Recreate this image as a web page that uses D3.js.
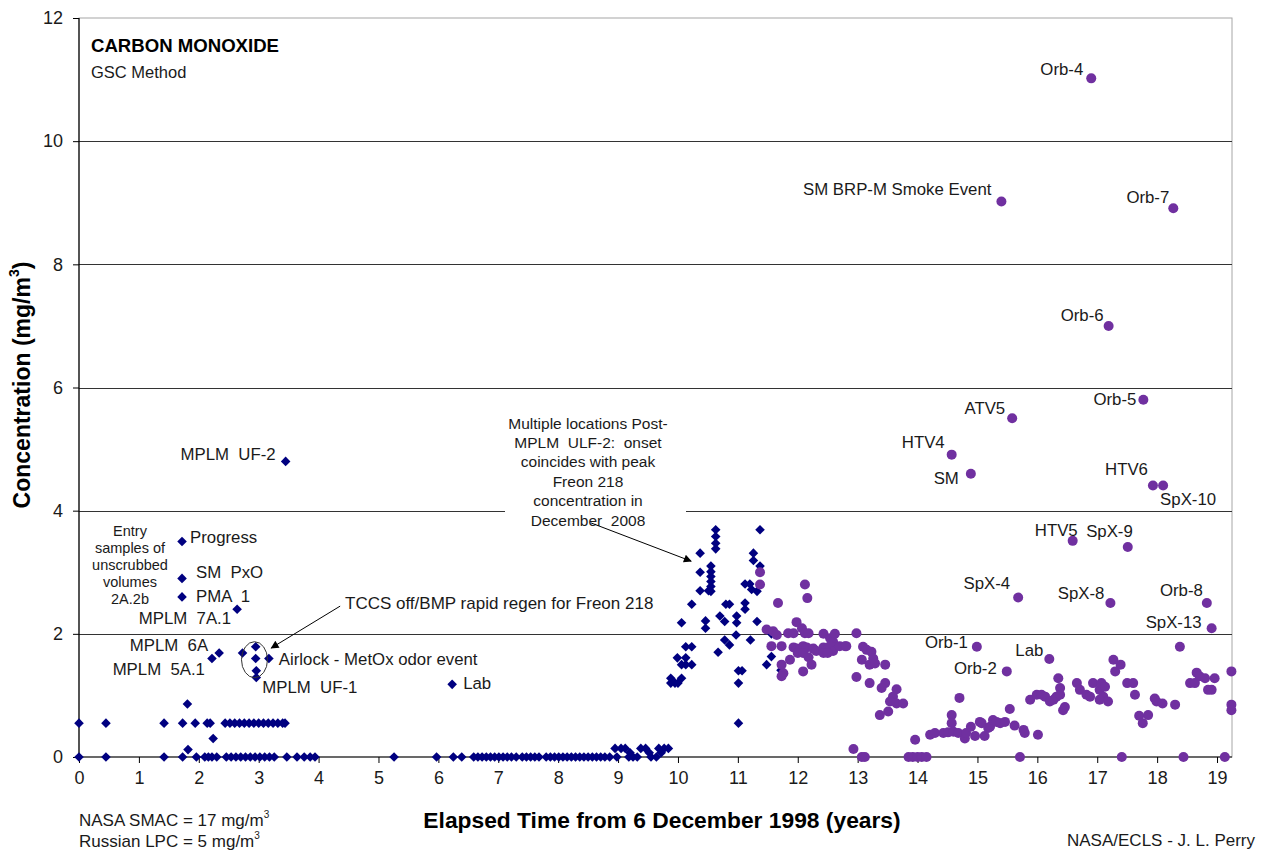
<!DOCTYPE html>
<html>
<head>
<meta charset="utf-8">
<script src="https://cdn.jsdelivr.net/npm/d3@7"></script>
<style>
  body { margin: 0; background: #fff; }
  svg { display: block; }
  text { font-family: "Liberation Sans", Arial, Helvetica, sans-serif; white-space: pre; }
</style>
</head>
<body>
<svg id="chart" width="1264" height="852"></svg>
<script>
// Carbon monoxide grab-sample results (GSC method), mg/m3,
// plotted against years elapsed since 6 December 1998.

// Axis ticks
const xTickValues = [0, 1, 2, 3, 4, 5, 6, 7, 8, 9, 10, 11, 12, 13, 14, 15, 16, 17, 18, 19];
const yTickValues = [0, 2, 4, 6, 8, 10, 12];

// Early samples at or near the reporting limit, 1998-2002: [years, mg/m3]
const diamondBaselineEarly = [
  [0.00, 0], [0.45, 0], [1.42, 0], [1.73, 0], [1.96, 0], [2.10, 0], [2.16, 0], [2.22, 0], [2.30, 0],
  [2.46, 0], [2.54, 0], [2.62, 0], [2.70, 0], [2.78, 0], [2.86, 0], [2.94, 0], [3.02, 0], [3.10, 0],
  [3.18, 0], [3.26, 0], [3.47, 0], [3.64, 0], [3.76, 0], [3.86, 0], [3.94, 0],
  [0.00, 0.55], [0.45, 0.55], [1.42, 0.55], [1.73, 0.55], [1.94, 0.55], [2.14, 0.55], [2.19, 0.55],
  [2.44, 0.55], [2.52, 0.55], [2.60, 0.55], [2.68, 0.55], [2.76, 0.55], [2.84, 0.55], [2.92, 0.55],
  [3.00, 0.55], [3.08, 0.55], [3.16, 0.55], [3.24, 0.55], [3.32, 0.55], [3.40, 0.55], [3.44, 0.55],
  [1.81, 0.86], [2.24, 0.30], [1.82, 0.12]
];

// Module entry samples and events, 2000-2005
const diamondEvents = [
  [1.72, 3.50], [1.72, 2.90], [1.72, 2.60], [2.64, 2.40], [2.22, 1.60], [2.34, 1.69], [2.73, 1.69],
  [2.95, 1.79], [2.95, 1.60], [3.17, 1.60], [2.96, 1.40], [2.96, 1.29], [3.45, 4.80], [6.23, 1.18]
];

// Routine samples 2004-2008
const diamondBaselineMid = [
  [5.26, 0], [5.97, 0], [6.25, 0], [6.39, 0], [6.59, 0], [6.66, 0], [6.73, 0], [6.80, 0], [6.87, 0],
  [6.94, 0], [7.01, 0], [7.08, 0], [7.15, 0], [7.22, 0], [7.30, 0], [7.40, 0], [7.47, 0], [7.54, 0],
  [7.61, 0], [7.68, 0], [7.80, 0], [7.87, 0], [7.94, 0], [8.01, 0], [8.08, 0], [8.15, 0], [8.22, 0],
  [8.29, 0], [8.36, 0], [8.43, 0], [8.50, 0], [8.57, 0], [8.64, 0], [8.71, 0], [8.78, 0], [8.86, 0],
  [8.95, 0.14], [9.05, 0.14], [9.12, 0.14], [9.38, 0.14], [9.46, 0.14], [9.68, 0.14], [9.77, 0.14], [9.84, 0.14],
  [9.20, 0.07], [9.52, 0.07], [9.72, 0.07],
  [8.98, 0], [9.18, 0], [9.25, 0], [9.32, 0], [9.55, 0], [9.64, 0]
];

// Post-ULF-2 rise, 2008-2010
const diamondRise = [
  [10.63, 3.69], [10.63, 3.58], [10.63, 3.47], [10.63, 3.38], [11.37, 3.69], [10.37, 3.31],
  [10.55, 3.10], [10.55, 3.01], [10.55, 2.93], [10.55, 2.85], [10.55, 2.77], [10.55, 2.69],
  [10.37, 3.00], [10.37, 2.70], [10.51, 2.70], [11.26, 3.31], [11.26, 3.19], [11.37, 3.10],
  [11.12, 2.81], [11.20, 2.81], [11.23, 2.72], [11.32, 2.69], [10.23, 2.48], [10.06, 2.18],
  [10.46, 2.21], [10.46, 2.09], [10.80, 2.48], [10.86, 2.48], [10.70, 2.29], [10.78, 2.20],
  [10.98, 2.29], [10.98, 2.18], [11.12, 2.50], [11.12, 2.40], [11.32, 2.20], [10.97, 1.98],
  [10.78, 1.90], [10.86, 1.82], [10.67, 1.70], [11.21, 1.90], [10.13, 1.79], [10.23, 1.79],
  [9.99, 1.61], [10.13, 1.61], [10.06, 1.50], [10.13, 1.50], [10.23, 1.50], [9.88, 1.28],
  [9.95, 1.20], [10.06, 1.28], [9.88, 1.20], [10.00, 1.20], [11.01, 1.40], [11.07, 1.40],
  [11.01, 1.20], [11.01, 0.55], [11.56, 1.63], [11.48, 1.50], [11.72, 1.41], [11.56, 2.00]
];

// Later samples, 2010-2018
const circleSamples = [
  [11.37, 3.00], [11.37, 2.80], [12.12, 2.80], [12.16, 2.58], [11.67, 2.50], [11.98, 2.19],
  [11.48, 2.07], [11.59, 2.04], [11.65, 1.98], [11.84, 2.01], [11.93, 2.01], [12.07, 2.09],
  [12.12, 2.01], [12.18, 2.01], [12.43, 2.00], [12.54, 1.93], [12.59, 1.87], [12.62, 2.00], [12.98, 2.01],
  [11.56, 1.80], [11.73, 1.80], [11.93, 1.78], [11.98, 1.76], [12.04, 1.74], [12.09, 1.80],
  [12.15, 1.78], [12.26, 1.76], [12.31, 1.72], [12.43, 1.78], [12.48, 1.74], [12.54, 1.80],
  [12.59, 1.72], [12.70, 1.80], [12.79, 1.80], [12.81, 1.80],
  [12.00, 1.69], [12.09, 1.69], [12.18, 1.62], [12.43, 1.69], [12.50, 1.69], [12.23, 1.50],
  [11.87, 1.58], [11.73, 1.50], [11.76, 1.36], [11.73, 1.31], [12.09, 1.39],
  [13.09, 1.79], [13.15, 1.74], [13.07, 1.58], [13.23, 1.71], [13.26, 1.60], [13.20, 1.50],
  [13.29, 1.52], [13.46, 1.50], [12.98, 1.30], [13.20, 1.20], [13.46, 1.20], [13.40, 1.12],
  [13.65, 1.10], [13.59, 0.98], [13.54, 0.90], [13.65, 0.87], [13.76, 0.87], [13.51, 0.74],
  [13.37, 0.68], [12.93, 0.13], [13.07, 0], [13.12, 0],
  [13.85, 0], [13.92, 0], [14.00, 0], [14.07, 0], [14.15, 0], [13.96, 0.28],
  [14.21, 0.36], [14.29, 0.39], [14.43, 0.39], [14.51, 0.40], [14.57, 0.68], [14.57, 0.55],
  [14.60, 0.41], [14.70, 0.96], [14.68, 0.39], [14.79, 0.30], [14.81, 0.39], [14.89, 0.49],
  [14.96, 0.34], [15.04, 0.57], [15.07, 0.55], [15.12, 0.34], [15.18, 0.47], [15.21, 0.49],
  [15.26, 0.60], [15.32, 0.57], [15.38, 0.55], [15.46, 0.57], [15.54, 0.78], [15.62, 0.51],
  [15.71, 0], [15.77, 0.44], [15.79, 0.39], [16.01, 0.36],
  [15.88, 0.93], [15.99, 1.01], [16.07, 1.01], [16.13, 0.98], [16.21, 0.90], [16.27, 0.93],
  [16.32, 0.98], [16.35, 1.28], [16.38, 1.12], [16.38, 1.01], [16.43, 0.76], [16.46, 0.81],
  [16.66, 1.20], [16.71, 1.09], [16.82, 1.01], [16.88, 0.98], [16.93, 1.20], [17.04, 1.09],
  [17.07, 1.20], [17.10, 0.98], [17.13, 1.14], [17.04, 0.93], [17.18, 0.90],
  [17.27, 1.58], [17.30, 1.39], [17.39, 1.50], [17.50, 1.20], [17.60, 1.20], [17.63, 1.01],
  [17.70, 0.67], [17.76, 0.55], [17.85, 0.68], [17.41, 0],
  [17.96, 0.95], [17.99, 0.90], [18.09, 0.87], [18.30, 0.85], [18.44, 0], [18.38, 1.79],
  [18.55, 1.20], [18.63, 1.20], [18.66, 1.37], [18.71, 1.31], [18.80, 1.28], [18.85, 1.09],
  [18.91, 1.09], [18.96, 1.28], [19.13, 0], [19.24, 1.39], [19.24, 0.85], [19.24, 0.76]
];

// Vehicle arrivals and named events, 2012-2018
const circleEvents = [
  [16.90, 11.02], [15.40, 9.02], [18.27, 8.91], [17.19, 7.00], [17.77, 5.80], [15.58, 5.50],
  [14.57, 4.91], [14.89, 4.60], [17.93, 4.41], [18.10, 4.41], [16.59, 3.51], [17.51, 3.41],
  [15.68, 2.59], [17.22, 2.50], [18.83, 2.50], [18.91, 2.09], [14.99, 1.79], [15.49, 1.39],
  [16.20, 1.59]
];

// Point labels: anchored on a sample, offset in pixels
const pointLabels = [
  { text: "MPLM  UF-2", at: [3.45, 4.80], dx: -10, dy: -7, anchor: "end" },
  { text: "Progress", at: [1.72, 3.50], dx: 8, dy: -4, anchor: "start" },
  { text: "SM  PxO", at: [1.72, 2.90], dx: 14, dy: -6, anchor: "start" },
  { text: "PMA  1", at: [1.72, 2.60], dx: 14, dy: 0, anchor: "start" },
  { text: "MPLM  7A.1", at: [2.64, 2.40], dx: -6, dy: 9, anchor: "end" },
  { text: "MPLM  6A", at: [2.34, 1.69], dx: -11, dy: -7, anchor: "end" },
  { text: "MPLM  5A.1", at: [2.22, 1.60], dx: -7, dy: 11, anchor: "end" },
  { text: "Airlock - MetOx odor event", at: [3.17, 1.60], dx: 10, dy: 1, anchor: "start" },
  { text: "MPLM  UF-1", at: [2.96, 1.29], dx: 6, dy: 10, anchor: "start" },
  { text: "Lab", at: [6.23, 1.18], dx: 11, dy: -1, anchor: "start" },
  { text: "Orb-4", at: [16.90, 11.02], dx: -8, dy: -9, anchor: "end" },
  { text: "SM BRP-M Smoke Event", at: [15.40, 9.02], dx: -10, dy: -12, anchor: "end" },
  { text: "Orb-7", at: [18.27, 8.91], dx: -4, dy: -11, anchor: "end" },
  { text: "Orb-6", at: [17.19, 7.00], dx: -5, dy: -10, anchor: "end" },
  { text: "Orb-5", at: [17.77, 5.80], dx: -7, dy: 0, anchor: "end" },
  { text: "ATV5", at: [15.58, 5.50], dx: -7, dy: -10, anchor: "end" },
  { text: "HTV4", at: [14.57, 4.91], dx: -7, dy: -12, anchor: "end" },
  { text: "SM", at: [14.89, 4.60], dx: -12, dy: 5, anchor: "end" },
  { text: "HTV6", at: [17.93, 4.41], dx: -5, dy: -16, anchor: "end" },
  { text: "SpX-10", at: [18.10, 4.41], dx: -3, dy: 14, anchor: "start" },
  { text: "HTV5", at: [16.59, 3.51], dx: 5, dy: -10, anchor: "end" },
  { text: "SpX-9", at: [17.51, 3.41], dx: 5, dy: -16, anchor: "end" },
  { text: "SpX-4", at: [15.68, 2.59], dx: -8, dy: -14, anchor: "end" },
  { text: "SpX-8", at: [17.22, 2.50], dx: -6, dy: -10, anchor: "end" },
  { text: "Orb-8", at: [18.83, 2.50], dx: -4, dy: -13, anchor: "end" },
  { text: "SpX-13", at: [18.91, 2.09], dx: -10, dy: -6, anchor: "end" },
  { text: "Orb-1", at: [14.99, 1.79], dx: -9, dy: -4, anchor: "end" },
  { text: "Lab", at: [16.20, 1.59], dx: -6, dy: -9, anchor: "end" },
  { text: "Orb-2", at: [15.49, 1.39], dx: -10, dy: -3, anchor: "end" }
];

const entryNote = ["Entry", "samples of", "unscrubbed", "volumes", "2A.2b"];
const freonNote = ["Multiple locations Post-", "MPLM  ULF-2:  onset", "coincides with peak",
                   "Freon 218", "concentration in", "December  2008"];

// ---------------------------------------------------------------------------
const svg = d3.select("#chart");
const W = 1264, H = 852;
const plot = { left: 79, right: 1232, top: 18, bottom: 757 };

const x = d3.scaleLinear().domain([0, 19.25]).range([plot.left, plot.right]);
const y = d3.scaleLinear().domain([0, 12]).range([plot.bottom, plot.top]);

const NAVY = "#000080";
const PURPLE = "#7030A0";
const INK = "#1a1a1a";

svg.append("rect").attr("width", W).attr("height", H).attr("fill", "#fff");

function addText(parent, px, py, str, o = {}) {
  return parent.append("text")
    .attr("x", px).attr("y", py)
    .attr("text-anchor", o.anchor || "start")
    .attr("dominant-baseline", "central")
    .style("font-size", (o.size || 16) + "px")
    .style("font-weight", o.bold ? "bold" : null)
    .attr("fill", o.fill || INK)
    .text(str);
}

// Plot frame and horizontal gridlines
svg.append("rect")
  .attr("x", plot.left).attr("y", plot.top)
  .attr("width", plot.right - plot.left).attr("height", plot.bottom - plot.top)
  .attr("fill", "none").attr("stroke", "#a6a6a6").attr("stroke-width", 1);

svg.append("g").selectAll("line")
  .data(yTickValues.filter(v => v > 0 && v < 12))
  .join("line")
  .attr("x1", plot.left).attr("x2", plot.right)
  .attr("y1", d => Math.round(y(d)) + 0.5).attr("y2", d => Math.round(y(d)) + 0.5)
  .attr("stroke", "#333").attr("stroke-width", 1.1);

// Axes
const xAxis = svg.append("g")
  .attr("transform", `translate(0,${plot.bottom})`)
  .call(d3.axisBottom(x).tickValues(xTickValues).tickSize(6).tickPadding(8).tickFormat(d3.format("d")));
const yAxis = svg.append("g")
  .attr("transform", `translate(${plot.left},0)`)
  .call(d3.axisLeft(y).tickValues(yTickValues).tickSize(6).tickPadding(10).tickFormat(d3.format("d")));

[xAxis, yAxis].forEach(a => {
  a.select(".domain").attr("stroke", "#000").attr("stroke-width", 1.2);
  a.selectAll(".tick line").attr("stroke", "#000");
  a.selectAll(".tick text")
    .attr("fill", INK)
    .style("font-size", "18px")
    .style("font-family", '"Liberation Sans", Arial, sans-serif');
});
yAxis.select(".domain").attr("d", `M0,${plot.bottom}V${plot.top}`);
xAxis.select(".domain").attr("d", `M${plot.left},0H${plot.right}`);

// Axis titles
addText(svg, 662, 820, "Elapsed Time from 6 December 1998 (years)", { size: 22.8, bold: true, anchor: "middle", fill: "#000" });
const yTitle = svg.append("text")
  .attr("transform", "translate(22,385) rotate(-90)")
  .attr("text-anchor", "middle")
  .attr("dominant-baseline", "central")
  .style("font-size", "23px").style("font-weight", "bold").attr("fill", "#000");
yTitle.append("tspan").text("Concentration (mg/m");
yTitle.append("tspan").attr("baseline-shift", "super").style("font-size", "14px").text("3");
yTitle.append("tspan").text(")");

// Chart title
addText(svg, 91, 45, "CARBON MONOXIDE", { size: 18.6, bold: true, fill: "#000" });
addText(svg, 91, 72, "GSC Method", { size: 16.5 });

// Exposure limits and credit
function withSup(px, py, base, tail, anchor) {
  const t = svg.append("text").attr("x", px).attr("y", py)
    .attr("text-anchor", anchor || "start").attr("dominant-baseline", "central")
    .style("font-size", "17px").attr("fill", INK);
  t.append("tspan").text(base);
  if (tail) t.append("tspan").attr("dy", "-6").style("font-size", "10px").text(tail);
  return t;
}
withSup(79, 820, "NASA SMAC = 17 mg/m", "3");
withSup(79, 841, "Russian LPC = 5 mg/m", "3");
withSup(1255, 840, "NASA/ECLS - J. L. Perry", null, "end");

// Background box behind the Freon 218 note
svg.append("rect")
  .attr("x", 505).attr("y", 410).attr("width", 181).attr("height", 120)
  .attr("fill", "#fff");

// Arrowhead marker
svg.append("defs").append("marker")
  .attr("id", "arrowhead")
  .attr("viewBox", "0 0 10 10").attr("refX", 9).attr("refY", 5)
  .attr("markerWidth", 11).attr("markerHeight", 8).attr("markerUnits", "userSpaceOnUse")
  .attr("orient", "auto")
  .append("path").attr("d", "M0,0L10,5L0,10Z").attr("fill", "#000");

// Samples: diamonds (first series) then circles on top
const diamond = d3.symbol().type(d3.symbolSquare).size(46)();
const diamonds = [].concat(diamondBaselineEarly, diamondBaselineMid, diamondEvents, diamondRise);
svg.append("g").selectAll("path")
  .data(diamonds)
  .join("path")
  .attr("d", diamond)
  .attr("transform", d => `translate(${x(d[0])},${y(d[1])}) rotate(45)`)
  .attr("fill", NAVY);

svg.append("g").selectAll("circle")
  .data([].concat(circleSamples, circleEvents))
  .join("circle")
  .attr("cx", d => x(d[0])).attr("cy", d => y(d[1]))
  .attr("r", 5)
  .attr("fill", PURPLE);

// Point labels
const labelLayer = svg.append("g");
pointLabels.forEach(l => {
  addText(labelLayer, x(l.at[0]) + l.dx, y(l.at[1]) + l.dy, l.text, { size: 16.8, anchor: l.anchor });
});

// Ellipse around the airlock odor event samples
svg.append("ellipse")
  .attr("cx", x(2.93)).attr("cy", y(1.58))
  .attr("rx", 13).attr("ry", 18)
  .attr("fill", "none").attr("stroke", "#333").attr("stroke-width", 1);

// TCCS note and arrow
addText(svg, 345, 603, "TCCS off/BMP rapid regen for Freon 218", { size: 17 });
svg.append("line")
  .attr("x1", x(4.36)).attr("y1", y(2.45))
  .attr("x2", x(3.21)).attr("y2", y(1.77))
  .attr("stroke", "#000").attr("stroke-width", 1)
  .attr("marker-end", "url(#arrowhead)");

// Entry sample note
entryNote.forEach((s, i) => addText(svg, 130, 531 + i * 17, s, { size: 14.5, anchor: "middle" }));

// Freon 218 note and arrow
freonNote.forEach((s, i) => addText(svg, 588, 423 + i * 19.4, s, { size: 15.5, anchor: "middle" }));
svg.append("line")
  .attr("x1", x(8.55)).attr("y1", y(3.80))
  .attr("x2", x(10.22)).attr("y2", y(3.18))
  .attr("stroke", "#000").attr("stroke-width", 1)
  .attr("marker-end", "url(#arrowhead)");
</script>
</body>
</html>
